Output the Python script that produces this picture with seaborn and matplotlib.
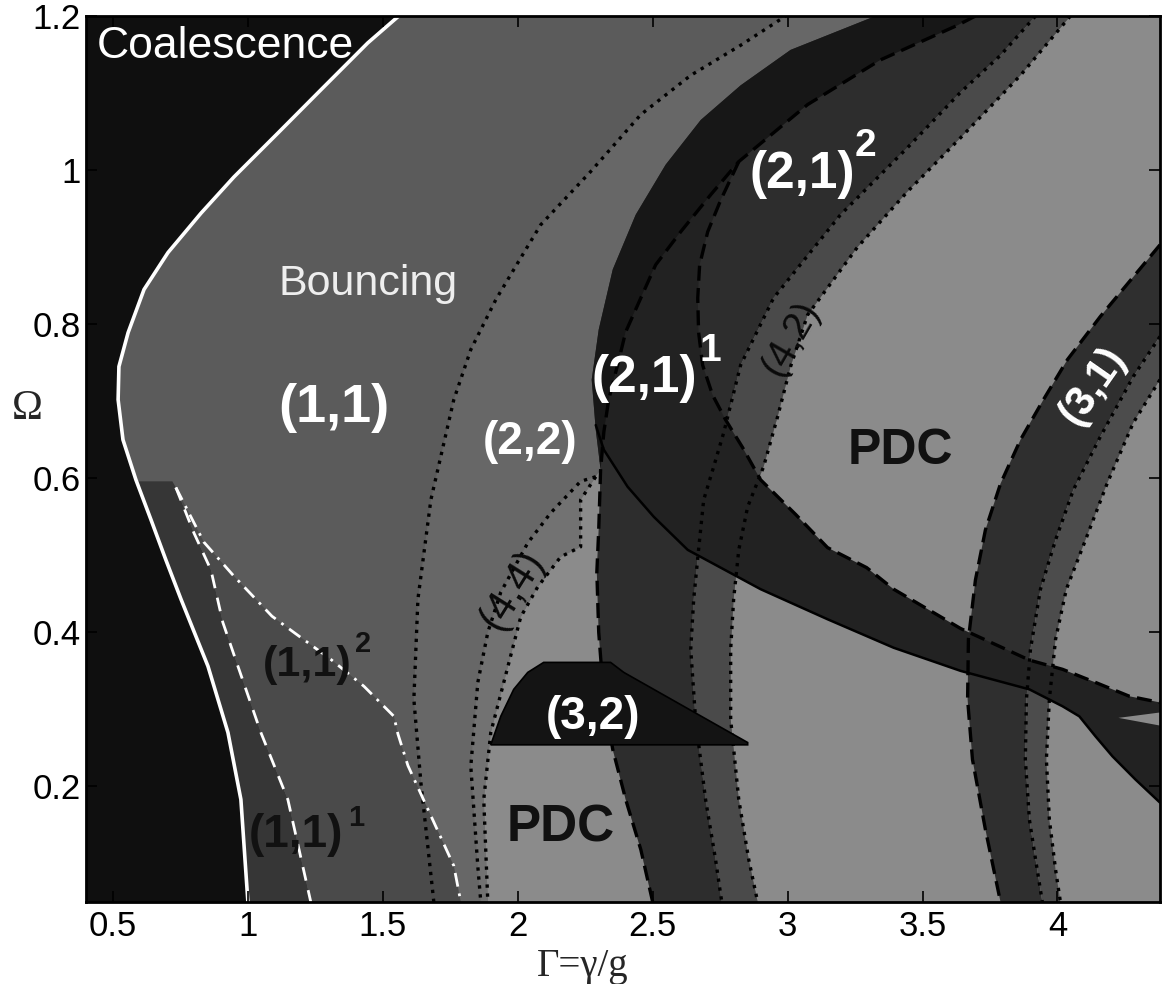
import matplotlib
matplotlib.use("Agg")
import matplotlib.pyplot as plt
import seaborn as sns

# ---------------------------------------------------------------------------
# Regime boundaries in the (Gamma, Omega) plane
# ---------------------------------------------------------------------------
# coalescence / bouncing threshold (white solid)
coal_gamma = [1.559, 1.444, 1.270, 1.111, 0.948, 0.826, 0.704, 0.615, 0.556, 0.522,
              0.519, 0.537, 0.585, 0.641, 0.696, 0.752, 0.852, 0.926, 0.974, 1.000]
coal_omega = [1.200, 1.165, 1.104, 1.048, 0.991, 0.944, 0.893, 0.845, 0.789, 0.745,
              0.702, 0.650, 0.598, 0.546, 0.494, 0.443, 0.356, 0.270, 0.183, 0.050]

# upper edge of the (1,1)^1 domain
shelf_gamma = [0.585, 0.720]
shelf_omega = [0.596, 0.596]

# (1,1)^1 / (1,1)^2 border (white dashed)
m11a_gamma = [0.733, 0.800, 0.863, 0.907, 0.963, 1.048, 1.148, 1.233]
m11a_omega = [0.588, 0.529, 0.481, 0.413, 0.356, 0.270, 0.183, 0.050]

# (1,1)^2 / (1,1) border (white dash-dot)
m11b_gamma = [0.733, 0.837, 0.948, 1.089, 1.170, 1.307, 1.430, 1.541, 1.556,
              1.593, 1.678, 1.763, 1.789]
m11b_omega = [0.588, 0.517, 0.473, 0.421, 0.400, 0.365, 0.330, 0.291, 0.268,
              0.227, 0.162, 0.097, 0.050]

# (1,1) / (2,2) border (dotted)
b22_gamma = [1.689, 1.641, 1.615, 1.630, 1.678, 1.763, 1.826, 1.919, 2.011,
             2.085, 2.270, 2.456, 2.641, 2.826, 2.993]
b22_omega = [0.050, 0.205, 0.313, 0.443, 0.572, 0.702, 0.767, 0.832, 0.886,
             0.929, 0.998, 1.072, 1.123, 1.162, 1.200]

# (4,4) lobe, left and right borders (dotted)
b44l_gamma = [2.289, 2.233, 2.122, 2.037, 1.937, 1.889, 1.852, 1.826, 1.852, 1.863]
b44l_omega = [0.602, 0.596, 0.555, 0.516, 0.452, 0.400, 0.335, 0.226, 0.096, 0.050]
b44r_gamma = [2.289, 2.233, 2.233, 2.159, 2.074, 2.011, 1.963, 1.900, 1.874, 1.889]
b44r_omega = [0.602, 0.572, 0.511, 0.498, 0.459, 0.420, 0.355, 0.270, 0.183, 0.050]

# outer edge of the (2,1) band
b21o_gamma = [3.326, 3.011, 2.826, 2.678, 2.548, 2.437, 2.352, 2.300, 2.274, 2.289, 2.307]
b21o_omega = [1.200, 1.156, 1.110, 1.065, 1.007, 0.942, 0.871, 0.793, 0.728, 0.663, 0.611]

# (2,1) dashed border: upper stem, inner branch, lower stem, tail branch
d21_top_gamma = [3.696, 3.630, 3.344, 3.074, 2.819]
d21_top_omega = [1.200, 1.188, 1.143, 1.085, 1.011]
d21_in_gamma = [2.819, 2.715, 2.604, 2.511, 2.456, 2.400, 2.370, 2.337, 2.319, 2.307]
d21_in_omega = [1.011, 0.968, 0.920, 0.877, 0.834, 0.790, 0.747, 0.702, 0.660, 0.611]
d21_low_gamma = [2.307, 2.300, 2.293, 2.300, 2.319, 2.352, 2.400, 2.456, 2.500]
d21_low_omega = [0.611, 0.533, 0.478, 0.400, 0.313, 0.248, 0.183, 0.118, 0.050]
d21_tail_gamma = [2.819, 2.752, 2.704, 2.674, 2.667, 2.670, 2.685, 2.722, 2.770,
                  2.833, 2.900, 3.030, 3.148, 3.293, 3.393, 3.641, 3.896, 4.019,
                  4.141, 4.267, 4.380]
d21_tail_omega = [1.011, 0.961, 0.920, 0.877, 0.834, 0.790, 0.747, 0.708, 0.676,
                  0.640, 0.598, 0.553, 0.510, 0.484, 0.456, 0.405, 0.364, 0.352,
                  0.335, 0.317, 0.309]

# lower edge of the (2,1) tail (solid)
s21_gamma = [2.289, 2.319, 2.407, 2.504, 2.630, 2.900, 3.148, 3.393, 3.641, 3.896,
             4.019, 4.081, 4.141, 4.204, 4.289, 4.380]
s21_omega = [0.669, 0.637, 0.589, 0.550, 0.507, 0.456, 0.417, 0.380, 0.350, 0.326,
             0.304, 0.291, 0.265, 0.239, 0.209, 0.179]

# narrow gap splitting the end of the tail
notch_gamma = [4.226, 4.380, 4.380]
notch_omega = [0.289, 0.296, 0.279]

# (4,2) band borders (dotted)
e42a_gamma = [3.919, 3.789, 3.641, 3.444, 3.196, 2.948, 2.826, 2.763, 2.726, 2.689,
              2.670, 2.652, 2.641, 2.659, 2.696, 2.733, 2.756]
e42a_omega = [1.200, 1.149, 1.101, 1.029, 0.942, 0.834, 0.747, 0.659, 0.615, 0.572,
              0.507, 0.443, 0.378, 0.287, 0.183, 0.105, 0.050]
e42b_gamma = [4.048, 3.863, 3.641, 3.444, 3.259, 3.074, 3.011, 2.963, 2.911, 2.852,
              2.819, 2.800, 2.789, 2.789, 2.819, 2.856, 2.889]
e42b_omega = [1.200, 1.123, 1.042, 0.972, 0.900, 0.812, 0.745, 0.680, 0.615, 0.563,
              0.507, 0.443, 0.378, 0.287, 0.183, 0.105, 0.050]

# (3,1) band: dashed outer border, two dotted inner borders
f31_gamma = [4.380, 4.159, 4.037, 3.948, 3.863, 3.789, 3.733, 3.696, 3.670,
             3.667, 3.685, 3.733, 3.789]
f31_omega = [0.903, 0.810, 0.754, 0.702, 0.650, 0.593, 0.533, 0.468, 0.391,
             0.313, 0.235, 0.144, 0.050]
g31a_gamma = [4.380, 4.281, 4.159, 4.059, 3.993, 3.937, 3.900, 3.885, 3.881,
              3.896, 3.919, 3.944]
g31a_omega = [0.784, 0.732, 0.654, 0.585, 0.520, 0.456, 0.378, 0.313, 0.235,
              0.157, 0.105, 0.050]
g31b_gamma = [4.380, 4.281, 4.185, 4.104, 4.033, 3.993, 3.970, 3.959, 3.970, 3.993, 4.011]
g31b_omega = [0.728, 0.672, 0.594, 0.520, 0.456, 0.391, 0.313, 0.235, 0.157, 0.092, 0.050]

# (3,2) island
m32_gamma = [1.900, 1.937, 1.985, 2.037, 2.096, 2.344, 2.393, 2.852, 2.852]
m32_omega = [0.254, 0.291, 0.326, 0.348, 0.361, 0.361, 0.348, 0.257, 0.254]

# axis ticks
gamma_ticks = [0.5, 1, 1.5, 2, 2.5, 3, 3.5, 4]
gamma_tick_labels = ["0.5", "1", "1.5", "2", "2.5", "3", "3.5", "4"]
omega_ticks = [0.2, 0.4, 0.6, 0.8, 1.0, 1.2]
omega_tick_labels = ["0.2", "0.4", "0.6", "0.8", "1", "1.2"]

# region labels: text, Gamma, Omega, colour, weight, size, horizontal alignment
region_labels = [
    ("Coalescence", 0.440, 1.145, "white", "normal", 32, "left"),
    ("Bouncing", 1.115, 0.838, "#eeeeee", "normal", 31, "left"),
    ("(1,1)", 1.317, 0.673, "white", "bold", 39, "center"),
    ("(2,2)", 2.046, 0.631, "white", "bold", 33, "center"),
    ("(2,1)", 2.468, 0.712, "white", "bold", 37, "center"),
    ("1", 2.675, 0.752, "white", "bold", 28, "left"),
    ("(2,1)", 3.056, 0.977, "white", "bold", 37, "center"),
    ("2", 3.248, 1.018, "white", "bold", 28, "left"),
    ("PDC", 3.419, 0.618, "#111111", "bold", 36, "center"),
    ("PDC", 2.159, 0.128, "#111111", "bold", 37, "center"),
    ("(3,2)", 2.280, 0.274, "white", "bold", 33, "center"),
    ("(1,1)", 1.220, 0.343, "#111111", "bold", 31, "center"),
    ("2", 1.398, 0.374, "#111111", "bold", 21, "left"),
    ("(1,1)", 1.178, 0.122, "#111111", "bold", 33, "center"),
    ("1", 1.372, 0.148, "#111111", "bold", 21, "left"),
]
# labels written along the narrow bands: text, Gamma, Omega, colour, weight, size, angle
band_labels = [
    ("(4,4)", 1.981, 0.455, "#0a0a0a", "normal", 30, 58),
    ("(4,2)", 3.011, 0.782, "#0a0a0a", "normal", 28, 60),
    ("(3,1)", 4.130, 0.721, "white", "bold", 30, 55),
]

# grey levels of the regimes
C_COAL = "#0f0f0f"
C_BOUNCE = "#5b5b5b"
C_22 = "#676767"
C_PDC = "#8b8b8b"
C_44 = "#727272"
C_111 = "#363636"
C_112 = "#4a4a4a"
C_21 = "#2d2d2d"
C_42 = "#4a4a4a"
C_TAIL = "#222222"
C_CRES = "#171717"
C_31 = "#2f2f2f"
C_31L = "#4c4c4c"
C_32 = "#141414"

G_MIN, G_MAX = 0.40, 4.38
W_MIN, W_MAX = 0.05, 1.20

sns.set_theme(style="ticks")
plt.rcParams["font.family"] = ["Liberation Sans", "DejaVu Sans"]

fig = plt.figure(figsize=(11.62, 9.84), dpi=100)
ax = fig.add_axes([86 / 1162, 82 / 984, 1074 / 1162, 886 / 984])
ax.set_facecolor(C_BOUNCE)


def region(g, w, color, z):
    ax.fill(g, w, color=color, lw=0, zorder=z)


def boundary(g, w, color, ls, lw, z=10):
    sns.lineplot(x=g, y=w, sort=False, estimator=None, color=color,
                 linestyle=ls, linewidth=lw, ax=ax, zorder=z)


def rev(s):
    return s[::-1]


# ---- filled regimes (back to front) ----
region(b22_gamma + [G_MAX, G_MAX], b22_omega + [W_MAX, W_MIN], C_22, 1)
region(b44r_gamma + rev(d21_low_gamma), b44r_omega + rev(d21_low_omega), C_PDC, 2)
region(b44l_gamma + rev(b44r_gamma), b44l_omega + rev(b44r_omega), C_44, 2)
region(e42b_gamma + [G_MAX, G_MAX], e42b_omega + [W_MIN, W_MAX], C_PDC, 2)
region(b21o_gamma + d21_low_gamma[1:] + rev(e42a_gamma),
       b21o_omega + d21_low_omega[1:] + rev(e42a_omega), C_21, 3)
region(e42a_gamma + rev(e42b_gamma), e42a_omega + rev(e42b_omega), C_42, 3)
region(f31_gamma + rev(g31a_gamma), f31_omega + rev(g31a_omega), C_31, 3)
region(g31a_gamma + rev(g31b_gamma), g31a_omega + rev(g31b_omega), C_31L, 3)
region(d21_tail_gamma + rev(s21_gamma) + rev(d21_in_gamma)[2:],
       d21_tail_omega + rev(s21_omega) + rev(d21_in_omega)[2:], C_TAIL, 4)
region(b21o_gamma + rev(d21_in_gamma) + rev(d21_top_gamma),
       b21o_omega + rev(d21_in_omega) + rev(d21_top_omega), C_CRES, 5)
region(notch_gamma, notch_omega, C_PDC, 5)

region(shelf_gamma + m11a_gamma + rev(coal_gamma[13:]),
       shelf_omega + m11a_omega + rev(coal_omega[13:]), C_111, 4)
region(m11a_gamma + rev(m11b_gamma), m11a_omega + rev(m11b_omega), C_112, 4)
region(coal_gamma + [G_MIN, G_MIN], coal_omega + [W_MIN, W_MAX], C_COAL, 5)

# ---- boundary curves ----
DOT = (0, (1.0, 1.7))
DASH = (0, (4.5, 2.2))
for g, w in [(b22_gamma, b22_omega), (b44l_gamma, b44l_omega),
             (b44r_gamma, b44r_omega), (e42a_gamma, e42a_omega),
             (e42b_gamma, e42b_omega), (g31a_gamma, g31a_omega),
             (g31b_gamma, g31b_omega)]:
    boundary(g, w, "black", DOT, 2.4)

boundary(d21_top_gamma + d21_in_gamma[1:] + d21_low_gamma[1:],
         d21_top_omega + d21_in_omega[1:] + d21_low_omega[1:], "black", DASH, 2.4)
boundary(d21_tail_gamma, d21_tail_omega, "black", DASH, 2.4)
boundary(f31_gamma, f31_omega, "black", DASH, 2.4)
boundary(s21_gamma, s21_omega, "black", "-", 1.8)

boundary(coal_gamma, coal_omega, "white", "-", 2.6, z=11)
boundary(m11a_gamma, m11a_omega, "white", (0, (5, 3.5)), 2.0, z=11)
boundary(m11b_gamma, m11b_omega, "white", (0, (5, 2.5, 1, 2.5)), 2.0, z=11)

ax.fill(m32_gamma, m32_omega, facecolor=C_32, edgecolor="black", lw=1.2, zorder=12)

# ---- labels ----
for txt, g, w, col, wt, fs, ha in region_labels:
    ax.text(g, w, txt, color=col, fontweight=wt, fontsize=fs, ha=ha,
            va="baseline", zorder=20)
for txt, g, w, col, wt, fs, rot in band_labels:
    ax.text(g, w, txt, color=col, fontweight=wt, fontsize=fs, ha="center",
            va="center", rotation=rot, rotation_mode="anchor", zorder=20)

# ---- axes ----
ax.set_xlim(G_MIN, G_MAX)
ax.set_ylim(W_MIN, W_MAX)
ax.set_xticks(gamma_ticks)
ax.set_xticklabels(gamma_tick_labels)
ax.set_yticks(omega_ticks)
ax.set_yticklabels(omega_tick_labels)
ax.tick_params(axis="both", direction="in", length=8, width=1.2, top=True,
               right=True, labelsize=25, colors="black")
ax.tick_params(axis="x", pad=6)
ax.tick_params(axis="y", pad=4)
ax.xaxis.set_zorder(30)
ax.yaxis.set_zorder(30)
for sp in ax.spines.values():
    sp.set_linewidth(2)
    sp.set_color("black")
    sp.set_zorder(31)

serif = ["Liberation Serif", "DejaVu Serif"]
ax.set_xlabel("Γ=γ/g", fontsize=28, family=serif)
ax.xaxis.set_label_coords(0.462, -0.052)
ax.set_ylabel("Ω", fontsize=30, family=serif, rotation=0, ha="center", va="center")
ax.yaxis.set_label_coords(-0.055, 0.557)

fig.savefig("out.png", dpi=100)
